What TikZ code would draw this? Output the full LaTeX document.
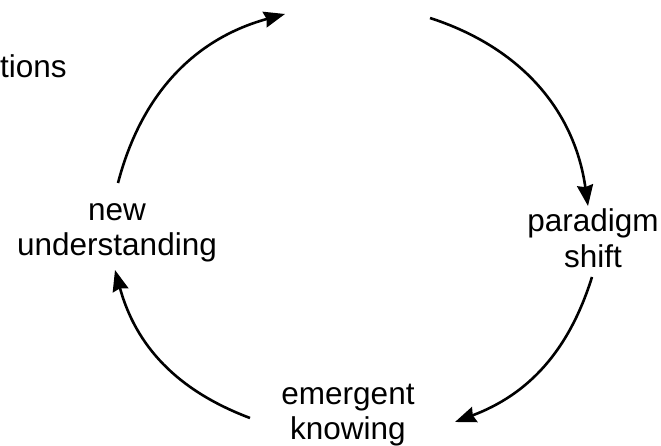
\documentclass[tikz,border=0pt]{standalone}
\usepackage{fontspec}
\setmainfont{Liberation Sans}
\usetikzlibrary{arrows.meta}
\begin{document}
\begin{tikzpicture}[x=1pt,y=1pt,
  lbl/.style={align=center,inner sep=0pt,font=\fontsize{31.5}{35.5}\selectfont},
  flow/.style={line width=2.6pt,-{Stealth[length=21pt,width=16pt,inset=2pt]}}]
\useasboundingbox (0,0) rectangle (661,446);
\node[lbl,anchor=base west] (tn) at (0,368) {tions};
\node[lbl] (nu) at (117,213) {new\\understanding};
\node[lbl] (ps) at (593,208) {paradigm\\shift};
\node[lbl] (ek) at (348,31) {emergent\\knowing};
\coordinate (a1s) at (118,263);
\coordinate (a1e) at (285,432);
\coordinate (a2s) at (430,428);
\coordinate (a2e) at (588,240);
\coordinate (a3s) at (592,169);
\coordinate (a3e) at (455,24);
\coordinate (a4s) at (250,28);
\coordinate (a4e) at (115,176);
\draw[flow] (a1s) to[bend left=30] (a1e);
\draw[flow] (a2s) to[bend left=32] (a2e);
\draw[flow] (a3s) to[bend left=26] (a3e);
\draw[flow] (a4s) to[bend left=27] (a4e);
\end{tikzpicture}
\end{document}
